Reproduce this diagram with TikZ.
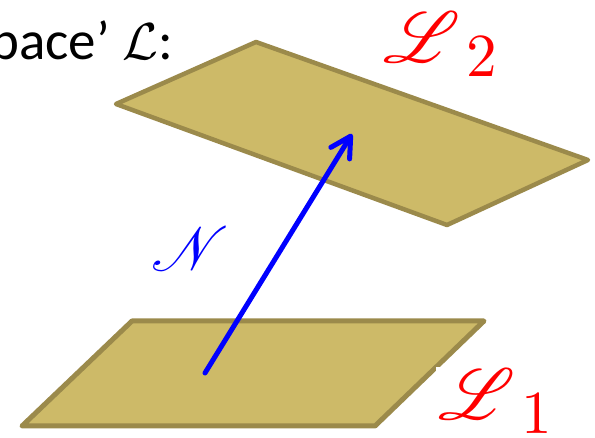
\documentclass[tikz,border=0pt]{standalone}
\usepackage{fontspec}
\setmainfont{Carlito}
\usepackage{mathrsfs}
\usetikzlibrary{arrows.meta}
\definecolor{planefill}{RGB}{205,186,104}
\definecolor{planeedge}{RGB}{155,138,75}
\tikzset{
  plane/.style={fill=planefill, draw=planeedge, line width=5pt, line join=round},
  lbl/.style={text=red, inner sep=2pt, font=\normalsize},
}
\newcommand{\ellsub}[1]{\scalebox{7.2}{$\mathscr{L}$\kern0.9pt\raisebox{-1.9pt}{\scalebox{0.85}{$#1$}}}}
\begin{document}
\begin{tikzpicture}[x=1pt,y=-1pt]
\useasboundingbox (0,0) rectangle (595,438);
% lower plane
\draw[plane] (22,426) -- (132,321) -- (484,321) -- (375,426) -- cycle;
% upper plane
\draw[plane, line width=4.5pt] (116,104) -- (256,42) -- (588,160) -- (447,225) -- cycle;
% normal arrow
\coordinate (ntail) at (205,373);
\coordinate (nhead) at (352,134);
\draw[blue, line width=5pt, line cap=round, -{Straight Barb[length=20pt,width=22pt,round]}] (ntail) -- (nhead);
% labels
\node[blue, inner sep=0pt] (N) at (190,249) {\scalebox{6.2}{$\mathscr{N}$}};
\node[lbl] (L2) at (440,44) {\ellsub{2}};
\node[lbl, fill=white] (L1) at (495,401) {\ellsub{1}};
\node[anchor=base west, inner sep=0pt, font=\fontsize{55}{55}\selectfont] (title) at (-10,60) {pace' \scalebox{5.2}{\normalsize$\mathcal{L}$}:};
\end{tikzpicture}
\end{document}
